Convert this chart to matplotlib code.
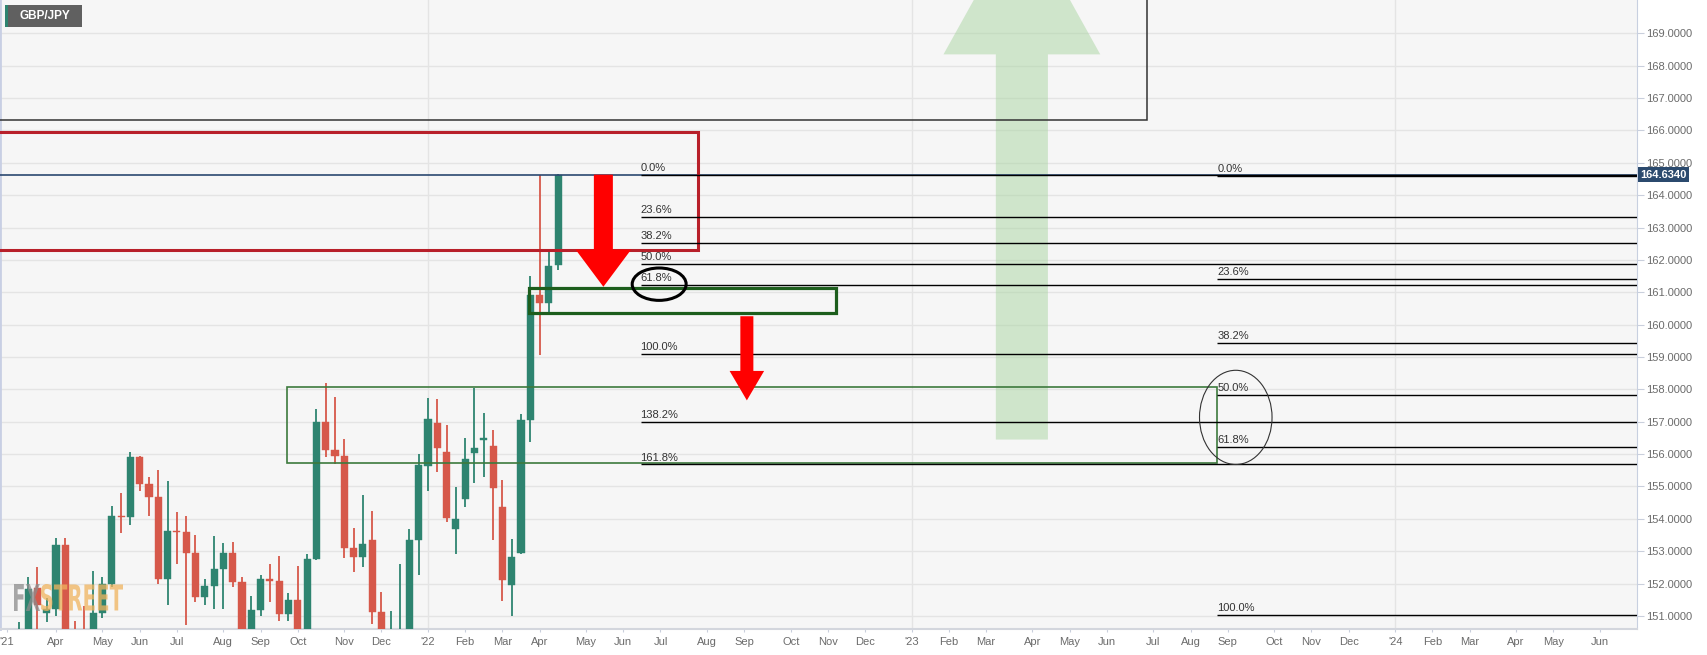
import matplotlib
matplotlib.use("Agg")
import matplotlib.pyplot as plt
import matplotlib.dates as mdates
import pandas as pd
from matplotlib.patches import Rectangle, Polygon, Ellipse, PathPatch
from matplotlib.textpath import TextPath
from matplotlib.font_manager import FontProperties
from matplotlib.transforms import Affine2D

# weekly GBP/JPY candles (bars stamped on Friday)
weeks = pd.date_range("2021-03-05", periods=59, freq="7D")
opens = [149.6, 150.3, 151.85, 151.08, 151.2, 153.2, 150.4, 150.3, 150.0, 151.1,
         152.0, 154.08, 154.06, 155.9, 155.07, 154.66, 152.13, 153.62, 153.6, 152.95,
         151.58, 151.92, 152.45, 152.95, 152.05, 150.3, 151.17, 152.13, 152.08, 151.05,
         151.48, 150.3, 152.76, 156.99, 156.13, 155.93, 153.1, 152.83, 153.36, 151.12,
         150.0, 150.4, 150.55, 153.36, 155.63, 156.97, 156.08, 153.7, 154.6, 156.04,
         156.45, 156.25, 154.36, 151.95, 152.95, 157.04, 160.91, 160.66, 161.84]
highs = [150.8, 152.2, 152.5, 151.55, 153.4, 153.4, 150.85, 151.3, 152.4, 152.2,
         154.4, 154.8, 156.08, 155.95, 155.3, 155.5, 155.17, 154.2, 154.1, 153.5,
         152.15, 153.47, 153.25, 153.3, 152.2, 151.62, 152.27, 152.62, 152.85, 151.72,
         152.55, 152.92, 157.4, 158.2, 157.76, 156.47, 153.72, 154.74, 154.23, 151.73,
         151.15, 152.6, 153.7, 156.0, 157.74, 157.7, 156.9, 154.98, 156.5, 158.05,
         157.28, 156.75, 155.2, 153.38, 157.23, 161.5, 164.63, 162.35, 164.65]
lows = [149.1, 150.0, 150.4, 150.8, 151.0, 150.2, 149.6, 149.4, 149.7, 150.95,
        151.9, 153.55, 153.8, 154.85, 154.1, 151.98, 151.35, 152.62, 150.73, 151.42,
        151.35, 151.2, 151.2, 151.9, 149.7, 150.0, 151.0, 151.42, 150.85, 150.85,
        149.9, 150.1, 152.73, 155.9, 155.7, 152.8, 152.37, 152.5, 150.75, 149.6,
        149.7, 150.0, 150.3, 152.28, 154.85, 155.44, 153.9, 152.9, 154.36, 155.1,
        155.3, 153.35, 151.45, 151.0, 152.9, 156.37, 159.05, 160.29, 161.68]
closes = [150.3, 151.82, 151.35, 151.2, 153.2, 150.4, 150.3, 150.0, 151.1, 152.0,
          154.1, 154.05, 155.9, 155.07, 154.66, 152.13, 153.63, 153.58, 152.95, 151.58,
          151.92, 152.45, 152.95, 152.05, 150.3, 151.17, 152.13, 152.08, 151.05, 151.48,
          150.3, 152.76, 156.99, 156.13, 155.94, 153.1, 152.83, 153.21, 151.12, 150.0,
          150.4, 150.55, 153.36, 155.65, 157.09, 156.2, 154.02, 154.0, 155.86, 156.2,
          156.47, 154.95, 152.1, 152.81, 157.04, 160.91, 160.66, 161.81, 164.634]
last_price = 164.634

y_ticks = list(range(151, 170))

# fibonacci tools: (0% level, 100% level, start date, ratios)
fib_left = (164.634, 159.10, "2022-06-16", [0.0, 0.236, 0.382, 0.5, 0.618, 1.0, 1.382, 1.618])
fib_right = (164.60, 151.04, "2023-08-24", [0.0, 0.236, 0.382, 0.5, 0.618, 1.0])

GREEN = "#2e8470"
RED = "#d6584a"

W, H = 1707, 655
fig = plt.figure(figsize=(W / 100, H / 100), dpi=100)
fig.patch.set_facecolor("white")
ax = fig.add_axes([0, 1 - 629 / H, 1637 / W, 629 / H])
ax.set_facecolor("#f6f6f6")

d = mdates.date2num
x_left = d(pd.Timestamp("2021-04-02") - pd.Timedelta(days=42.15))
x_right = d(pd.Timestamp("2021-04-02") + pd.Timedelta(days=1190))
ax.set_xlim(x_left, x_right)
ax.set_ylim(150.597, 170.03)

# grid
for v in y_ticks:
    ax.axhline(v, color="#e4e4e4", lw=1, zorder=0)
for yr in ["2022-01-07", "2023-01-06", "2024-01-05"]:
    ax.axvline(d(pd.Timestamp(yr)), color="#e4e4e4", lw=1, zorder=0)

# candles
xs = d(weeks)
for x, o, h, l, c in zip(xs, opens, highs, lows, closes):
    col = GREEN if c >= o else RED
    ax.vlines(x, l, h, color=col, lw=1.3, zorder=3)
    ax.bar(x, max(abs(c - o), 0.05), width=5.3, bottom=min(o, c), color=col,
           edgecolor=col, lw=0.3, zorder=4)

# green up arrow (translucent)
ga_x = d(pd.Timestamp("2023-03-30"))
sw, hw = 19.6, 59
ax.add_patch(Polygon([(ga_x - sw, 156.45), (ga_x - sw, 168.35), (ga_x - hw, 168.35),
                      (ga_x, 172.7), (ga_x + hw, 168.35), (ga_x + sw, 168.35),
                      (ga_x + sw, 156.45)], closed=True, fc="#a9d5a1", ec="none",
                     alpha=0.5, zorder=1))

# price line
ax.axhline(last_price, color="#2a4870", lw=1.2, zorder=5)

# black box at top
bx0 = d(pd.Timestamp("2021-01-01"))
bx1 = d(pd.Timestamp("2023-07-02"))
ax.add_patch(Rectangle((bx0, 166.33), bx1 - bx0, 6, fill=False, ec="#333333", lw=1.1, zorder=6))

# red box
rx1 = d(pd.Timestamp("2022-07-29"))
ax.add_patch(Rectangle((bx0, 162.32), rx1 - bx0, 165.95 - 162.32, fill=False,
                       ec="#b8202a", lw=2.2, zorder=6))

# green support zone (thin)
gx0 = d(pd.Timestamp("2021-09-23"))
gx1 = d(pd.Timestamp("2023-08-24"))
ax.add_patch(Rectangle((gx0, 155.74), gx1 - gx0, 158.07 - 155.74, fill=False,
                       ec="#3d7a3d", lw=1.2, zorder=6))

# green zone (thick)
tx0 = d(pd.Timestamp("2022-03-24"))
tx1 = d(pd.Timestamp("2022-11-10"))
ax.add_patch(Rectangle((tx0, 160.37), tx1 - tx0, 161.13 - 160.37, fill=False,
                       ec="#1d5e1d", lw=2.3, zorder=7))

# fib retracements
for top, bot, start, ratios in [fib_left, fib_right]:
    sx = d(pd.Timestamp(start))
    for r in ratios:
        lvl = top - (top - bot) * r
        ax.hlines(lvl, sx, x_right, color="black", lw=1.0, zorder=6)
        ax.text(sx, lvl + 0.06, f"{r * 100:.1f}%", fontsize=8, color="#333333",
                family="Liberation Sans", ha="left", va="bottom", zorder=8)

# red arrows
def down_arrow(xc, top, base, tip, sw, hw):
    return Polygon([(xc - sw, top), (xc - sw, base), (xc - hw, base), (xc, tip),
                    (xc + hw, base), (xc + sw, base), (xc + sw, top)], closed=True,
                   fc="#ff0000", ec="none", zorder=7)

ax.add_patch(down_arrow(d(pd.Timestamp("2022-05-19")), last_price, 162.32, 161.17, 7.15, 20.9))
ax.add_patch(down_arrow(d(pd.Timestamp("2022-09-04")), 160.26, 158.57, 157.66, 4.9, 13))

# ellipses
ax.add_patch(Ellipse((d(pd.Timestamp("2022-06-30")), 161.25), 40.6, 1.0, fill=False,
                     ec="black", lw=2.2, zorder=8))
ax.add_patch(Ellipse((d(pd.Timestamp("2023-09-07")), 157.135), 54.6, 2.91, fill=False,
                     ec="#333333", lw=0.8, zorder=8))

# axes styling
ax.yaxis.tick_right()
ax.set_yticks(y_ticks)
ax.set_yticklabels([f"{v:.4f}" for v in y_ticks])
ax.tick_params(axis="y", direction="out", length=5, color="#c9cfdc", labelcolor="#6b6b6b",
               labelsize=8, pad=1.5)

month_starts = pd.date_range("2021-04-01", "2024-06-01", freq="MS")
tick_dates = [pd.Timestamp("2021-02-24")]
tick_labels = ["'21"]
for ms in month_starts:
    fri = ms + pd.Timedelta(days=(4 - ms.weekday()) % 7)
    tick_dates.append(fri)
    tick_labels.append(fri.strftime("'%y") if ms.month == 1 else fri.strftime("%b"))
ax.set_xticks(d(pd.DatetimeIndex(tick_dates)))
ax.set_xticklabels(tick_labels)
ax.tick_params(axis="x", direction="out", length=2, color="#c9cfdc", labelcolor="#6b6b6b",
               labelsize=8, pad=3.5)
for lab in ax.get_xticklabels() + ax.get_yticklabels():
    lab.set_family("Liberation Sans")

ax.spines["top"].set_visible(False)
ax.spines["right"].set_color("#c8d0e0")
ax.spines["left"].set_color("#c8cfe4")
ax.spines["left"].set_linewidth(2)
ax.spines["bottom"].set_color("#d3d6dd")
ax.spines["bottom"].set_linewidth(1.5)

# last price label
ax.text(1.002, last_price, "164.6340", transform=ax.get_yaxis_transform(), ha="left",
        va="center", color="white", fontweight="bold", fontsize=8, family="Liberation Sans",
        bbox=dict(boxstyle="square,pad=0.22", fc="#2b4a6e", ec="none"), zorder=10,
        clip_on=False)

# symbol tag
fig.add_artist(Rectangle((5 / W, 1 - 27 / H), 77 / W, 22 / H, transform=fig.transFigure,
                         fc="#606060", ec="none", zorder=10))
fig.add_artist(Rectangle((5 / W, 1 - 27 / H), 2.5 / W, 22 / H, transform=fig.transFigure,
                         fc=GREEN, ec="none", zorder=11))
fig.text(45 / W, 1 - 16 / H, "GBP/JPY", color="white", fontsize=8.5, fontweight="bold",
         family="Liberation Sans", ha="center", va="center", zorder=12)

# watermark
wm_font = FontProperties(family="DejaVu Sans", weight="bold")
for txt, x0, x1, col in [("FX", 14, 40, "#8c8c8c"), ("STREET", 41, 123, "#f0b45e")]:
    tp = TextPath((0, 0), txt, size=1, prop=wm_font)
    ext = tp.get_extents()
    sx = (x1 - x0) / ext.width
    sy = 27 / ext.height
    tr = Affine2D().translate(-ext.x0, -ext.y0).scale(sx, sy).translate(x0, H - 611)
    fig.add_artist(PathPatch(tp, transform=tr, fc=col, ec="none", alpha=0.75, zorder=9))

fig.savefig("out.png", dpi=100, facecolor="white")
